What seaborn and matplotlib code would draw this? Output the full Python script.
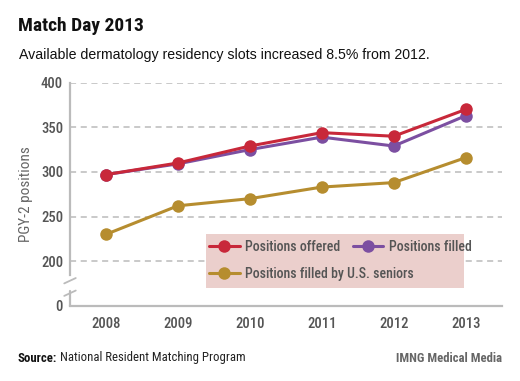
import matplotlib
matplotlib.use("Agg")
import matplotlib.pyplot as plt
from matplotlib import font_manager
from matplotlib.lines import Line2D
from matplotlib.patches import Rectangle
import pandas as pd
import seaborn as sns

# data
years = [2008, 2009, 2010, 2011, 2012, 2013]
offered = [297, 310, 329, 344, 340, 370]
filled = [297, 309, 325, 339, 329, 363]
seniors = [230, 262, 270, 283, 288, 316]
series_names = ["Positions offered", "Positions filled", "Positions filled by U.S. seniors"]
ytick_values = [150, 200, 250, 300, 350, 400]
ytick_labels = ["0", "200", "250", "300", "350", "400"]

colors = {
    "Positions offered": "#c8283a",
    "Positions filled": "#7c4fa1",
    "Positions filled by U.S. seniors": "#b68d2f",
}

sns.set_theme(style="white")
fonts = font_manager.fontManager.ttflist
names = {f.name for f in fonts}
narrow = None
for cand in ["Liberation Sans Narrow", "Roboto Condensed", "Open Sans Condensed", "Noto Sans Display"]:
    if cand in names:
        narrow = cand
        break
condensed_dejavu = any(f.name == "DejaVu Sans" and f.stretch in ("condensed", 300) for f in fonts)
if narrow is None:
    narrow = "DejaVu Sans" if condensed_dejavu else "Roboto"
plt.rcParams["font.family"] = [narrow, "DejaVu Sans"]
if condensed_dejavu and narrow == "DejaVu Sans":
    plt.rcParams["font.stretch"] = "condensed"
plain = "Liberation Sans" if "Liberation Sans" in names else "DejaVu Sans"

df = pd.DataFrame({
    "year": years * 3,
    "value": seniors + filled + offered,
    "series": [series_names[2]] * 6 + [series_names[1]] * 6 + [series_names[0]] * 6,
})

fig = plt.figure(figsize=(5.2, 3.81), dpi=100)
ax = fig.add_axes([70 / 520, 1 - 305.7 / 381, 431.7 / 520, 223 / 381])

sns.lineplot(data=df, x="year", y="value", hue="series",
             hue_order=[series_names[2], series_names[1], series_names[0]],
             palette=colors, marker="o", markersize=9, markeredgewidth=0,
             linewidth=2.2, legend=False, ax=ax, clip_on=False)

ax.set_xlim(2007.5, 2013.5)
ax.set_ylim(150, 400)
ax.set_xticks(years)
ax.set_xticklabels([str(y) for y in years])
ax.set_yticks(ytick_values)
ax.set_yticklabels(ytick_labels)
ax.tick_params(axis="both", length=0, labelsize=10.5, labelcolor="#555555")
ax.tick_params(axis="x", pad=8)
ax.tick_params(axis="y", pad=5)
for lab in ax.get_xticklabels() + ax.get_yticklabels():
    lab.set_fontweight("medium")
ax.set_xlabel("")
ax.set_ylabel("PGY-2 positions", fontsize=11, color="#666666", labelpad=6)

for yv in ytick_values[1:]:
    ax.axhline(yv, color="#bbbbbb", linewidth=1.1, linestyle=(0, (4, 3)), zorder=0)

for side in ["top", "right"]:
    ax.spines[side].set_visible(False)
ax.spines["bottom"].set_color("#bbbbbb")
ax.spines["bottom"].set_linewidth(1.6)
ax.spines["left"].set_color("#bbbbbb")
ax.spines["left"].set_linewidth(1.6)
ax.spines["left"].set_bounds(184, 400)

# lower piece of broken axis and the break slashes
ax.plot([2007.5, 2007.5], [150, 167], color="#bbbbbb", linewidth=1.6, clip_on=False)
for yb in [178, 164]:
    ax.plot([2007.42, 2007.58], [yb - 3, yb + 3], color="#bbbbbb", linewidth=1.3, clip_on=False)

# legend with pink box
fig.patches.append(Rectangle((206 / 520, 1 - 288 / 381), 258 / 520, 54 / 381,
                             transform=fig.transFigure, facecolor="#ebcfcc",
                             edgecolor="none", zorder=0))

def handle(name):
    return Line2D([], [], color=colors[name], marker="o", markersize=9,
                  markeredgewidth=0, linewidth=2.2)

leg1 = fig.legend([handle(series_names[0]), handle(series_names[1])], series_names[:2],
                  ncol=2, loc="center left", bbox_to_anchor=(209 / 520, 1 - 247 / 381),
                  frameon=False, fontsize=10, handlelength=2.2, columnspacing=0.9,
                  handletextpad=0.4, borderaxespad=0, borderpad=0)
leg2 = fig.legend([handle(series_names[2])], series_names[2:],
                  loc="center left", bbox_to_anchor=(209 / 520, 1 - 274 / 381),
                  frameon=False, fontsize=10, handlelength=2.2,
                  handletextpad=0.4, borderaxespad=0, borderpad=0)
for leg in (leg1, leg2):
    for t in leg.get_texts():
        t.set_color("#555555")
        t.set_fontweight("medium")

# titles and notes
fig.text(18 / 520, 1 - 26 / 381, "Match Day 2013", fontsize=14, fontweight="bold",
         color="#111111", va="center", ha="left")
fig.text(19 / 520, 1 - 55 / 381, "Available dermatology residency slots increased 8.5% from 2012.",
         fontsize=10.2, color="#111111", va="center", ha="left", family=[plain, "DejaVu Sans"])
src = fig.text(18 / 520, 1 - 358 / 381, "Source:", fontsize=9.2, fontweight="bold",
               color="#111111", va="center", ha="left")
fig.canvas.draw()
bb = src.get_window_extent()
fig.text((bb.x1 + 3) / 520, 1 - 358 / 381, "National Resident Matching Program", fontsize=9.2,
         color="#222222", va="center", ha="left")
fig.text(502 / 520, 1 - 358 / 381, "IMNG Medical Media", fontsize=9.2, fontweight="bold",
         color="#666666", va="center", ha="right")

fig.savefig("out.png", dpi=100)
